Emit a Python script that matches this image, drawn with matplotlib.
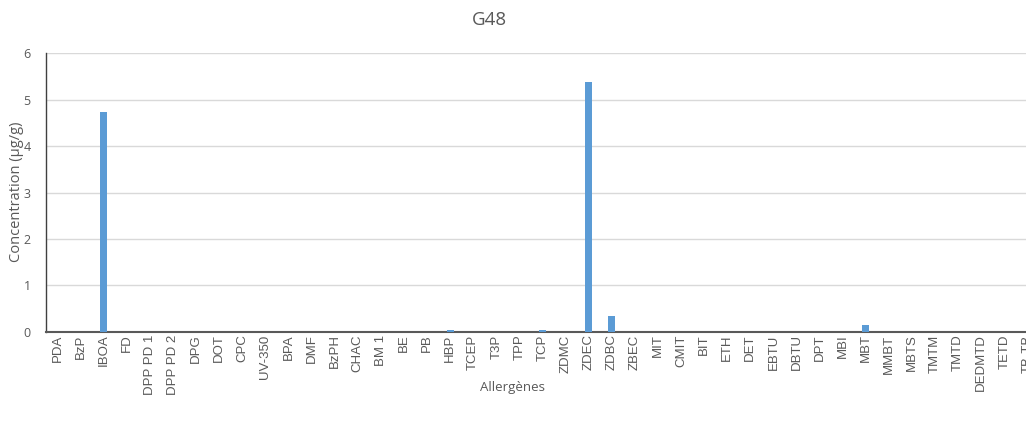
import matplotlib.pyplot as plt
import numpy as np

categories = ['PDA', 'BzP', 'IBOA', 'FD', 'DPP PD 1', 'DPP PD 2', 'DPG', 'DOT', 'CPC',
              'UV-350', 'BPA', 'DMF', 'BzPH', 'CHAC', 'BM 1', 'BE', 'PB', 'HBP', 'TCEP',
              'T3P', 'TPP', 'TCP', 'ZDMC', 'ZDEC', 'ZDBC', 'ZBEC', 'MIT', 'CMIT', 'BIT',
              'ETH', 'DET', 'EBTU', 'DBTU', 'DPT', 'MBI', 'MBT', 'MMBT', 'MBTS', 'TMTM',
              'TMTD', 'DEDMTD', 'TETD', 'TB-TB']
values = [0, 0, 4.74, 0, 0, 0, 0, 0, 0,
          0, 0, 0, 0, 0, 0, 0, 0, 0.03, 0,
          0, 0, 0.03, 0, 5.39, 0.345, 0, 0, 0, 0,
          0, 0, 0, 0, 0, 0, 0.145, 0, 0, 0,
          0, 0, 0, 0]
y_ticks = [0, 1, 2, 3, 4, 5, 6]

W, H = 1026, 425
fig = plt.figure(figsize=(W / 100, H / 100), dpi=100)
# axes runs past the right edge of the picture, like the cropped original
left, right, top, bottom = 46, 1039, 53.3, 331.7
ax = fig.add_axes([left / W, (H - bottom) / H, (right - left) / W, (bottom - top) / H])

x = np.arange(len(categories))
ax.bar(x, values, width=0.3, color='#5B9BD5', zorder=3)

ax.set_xlim(-0.5, len(categories) - 0.5)
ax.set_ylim(0, 6)
ax.set_yticks(y_ticks)
ax.set_yticklabels([str(t) for t in y_ticks], fontfamily='Open Sans', fontsize=9, color='#595959')
ax.set_xticks(x)
ax.set_xticklabels(categories, rotation=90, fontfamily='Liberation Sans', fontsize=9.5, color='#595959')
ax.tick_params(axis='x', length=0, pad=2)
ax.tick_params(axis='y', length=0, pad=11)

ax.grid(axis='y', color='#D9D9D9', linewidth=1, zorder=0)
for s in ['top', 'right']:
    ax.spines[s].set_visible(False)
ax.spines['left'].set_color('#404040')
ax.spines['left'].set_linewidth(1)
ax.spines['bottom'].set_color('#595959')
ax.spines['bottom'].set_linewidth(1.5)

fig.text(489 / W, 1 - 20 / H, 'G48', ha='center', va='center', fontfamily='Open Sans',
         fontsize=13.5, color='#595959')
fig.text(512 / W, 1 - 387 / H, 'Allergènes', ha='center', va='center', fontfamily='Open Sans',
         fontsize=9.5, color='#595959')
fig.text(17 / W, 1 - 192 / H, 'Concentration (µg/g)', ha='center', va='center', rotation=90,
         fontfamily='Open Sans', fontsize=10.5, color='#595959')

fig.savefig('out.png', dpi=100)
